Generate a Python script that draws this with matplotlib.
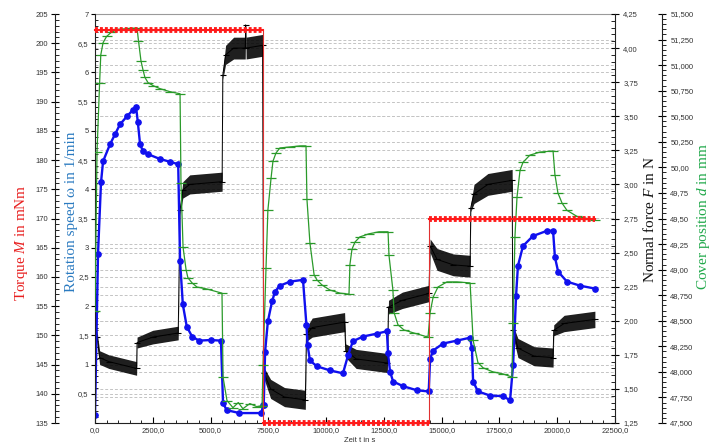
import matplotlib
matplotlib.use("Agg")
import matplotlib.pyplot as plt
from matplotlib.ticker import FixedLocator, FixedFormatter, MultipleLocator

plt.rcParams['mathtext.fontset'] = 'custom'
plt.rcParams['mathtext.rm'] = 'Liberation Serif'
plt.rcParams['mathtext.it'] = 'Liberation Serif:italic'
plt.rcParams['font.family'] = ['Liberation Sans', 'DejaVu Sans']

# ---------------- data ----------------
# Torque M in mNm (red)
torque_t = [0, 7250, 7250, 14450, 14450, 21630]
torque_v = [202.2, 202.2, 135.0, 135.0, 170.0, 170.0]

# Rotation speed in 1/min (blue)
rot_t = [0, 130, 260, 350, 650, 865, 1080, 1385, 1645, 1780,
         1850, 1950, 2080, 2300, 2800, 3250, 3600,
         3680, 3800, 3970, 4200, 4500, 5000, 5450,
         5540, 5700, 6250, 7200, 7270,
         7300, 7360, 7480, 7660, 7790, 8000, 8440, 9000,
         9150, 9200, 9300, 9600, 10170, 10730,
         10950, 11160, 11600, 12200, 12630,
         12680, 12765, 12900, 13330, 13930, 14440,
         14500, 14630, 15060, 15660, 16230,
         16310, 16360, 16570, 17090, 17650, 17960,
         18090, 18220, 18300, 18520, 18950, 19560, 19820,
         19900, 20040, 20420, 20990, 21640]
rot_v = [0.13, 2.89, 4.12, 4.48, 4.77, 4.94, 5.11, 5.25, 5.36, 5.40,
         5.16, 4.77, 4.65, 4.60, 4.52, 4.47, 4.43,
         2.78, 2.03, 1.65, 1.48, 1.41, 1.42, 1.41,
         0.34, 0.22, 0.17, 0.17, 0.30,
         0.30, 1.22, 1.74, 2.08, 2.25, 2.35, 2.42, 2.45,
         1.67, 1.33, 1.07, 0.97, 0.90, 0.85,
         1.16, 1.40, 1.48, 1.53, 1.57,
         1.19, 0.88, 0.71, 0.63, 0.56, 0.54,
         1.10, 1.24, 1.36, 1.41, 1.46,
         1.28, 0.71, 0.54, 0.47, 0.46, 0.39,
         0.99, 2.18, 2.69, 3.03, 3.20, 3.29, 3.29,
         2.84, 2.59, 2.42, 2.35, 2.30]

# Normal force F in N (black): mid line and half width of the noise band
force_t = [0, 90, 200, 600, 1800,
           1820, 2500, 3600,
           3680, 3800, 4100, 5500,
           5530, 5650, 6000, 6500, 6520, 6540, 7250,
           7300, 7600, 8200, 9100,
           9150, 9400, 10800,
           10850, 11300, 12650,
           12700, 13300, 14450,
           14500, 14800, 15500, 16230,
           16260, 16400, 17000, 18050,
           18080, 18300, 19000, 19820,
           19850, 20300, 21630]
force_v = [1.95, 1.88, 1.73, 1.70, 1.65,
           1.84, 1.88, 1.91,
           2.81, 2.96, 3.00, 3.02,
           3.80, 3.95, 4.00, 4.00, 4.17, 4.00, 4.02,
           1.62, 1.50, 1.44, 1.42,
           1.90, 1.95, 1.99,
           1.78, 1.72, 1.69,
           2.10, 2.15, 2.20,
           2.55, 2.45, 2.41, 2.40,
           2.83, 2.93, 3.00, 3.03,
           1.93, 1.80, 1.74, 1.73,
           1.93, 1.98, 2.01]
force_half = [0.02, 0.04, 0.05, 0.05, 0.05,
              0.04, 0.05, 0.05,
              0.03, 0.06, 0.07, 0.07,
              0.03, 0.07, 0.08, 0.08, 0.0, 0.08, 0.08,
              0.04, 0.07, 0.07, 0.07,
              0.05, 0.07, 0.07,
              0.05, 0.07, 0.07,
              0.05, 0.06, 0.06,
              0.05, 0.08, 0.08, 0.08,
              0.03, 0.07, 0.08, 0.08,
              0.04, 0.07, 0.07, 0.07,
              0.04, 0.06, 0.06]

# Cover position d in mm (green)
cover_t = [0, 87, 200, 250, 350, 500, 700, 1000, 1600, 1820,
           1880, 1990, 2080, 2160, 2290, 2510, 2810, 3250, 3680,
           3720, 3810, 3940, 4020, 4200, 4410, 4850, 5495,
           5540, 5710, 5970, 6200, 6400, 6700, 7000, 7230,
           7270, 7400, 7480, 7620, 7700, 7830, 8000, 8440, 8870, 9130,
           9170, 9300, 9480, 9600, 9820, 10170, 10600, 10990,
           11030, 11120, 11250, 11460, 11850, 12290, 12680,
           12720, 12890, 12940, 13110, 13370, 13800, 14410,
           14500, 14630, 14840, 15230, 15660, 16230,
           16360, 16570, 16790, 17220, 17650, 18040,
           18090, 18170, 18260, 18390, 18520, 18820, 19260, 19820,
           19900, 20030, 20210, 20420, 20860, 21290, 21640]
cover_v = [48.60, 50.15, 50.83, 51.10, 51.22, 51.28, 51.32, 51.35, 51.36, 51.36,
           51.24, 51.04, 50.95, 50.88, 50.83, 50.80, 50.77, 50.74, 50.72,
           49.85, 49.22, 49.00, 48.92, 48.87, 48.83, 48.81, 48.77,
           47.95, 47.72, 47.65, 47.70, 47.64, 47.69, 47.66, 47.67,
           48.07, 49.02, 49.58, 49.90, 50.06, 50.14, 50.19, 50.20, 50.21, 50.21,
           49.69, 49.26, 48.95, 48.90, 48.85, 48.80, 48.77, 48.76,
           49.05, 49.20, 49.27, 49.32, 49.35, 49.37, 49.37,
           49.14, 48.80, 48.58, 48.46, 48.41, 48.38, 48.34,
           48.58, 48.73, 48.83, 48.88, 48.88, 48.87,
           48.31, 48.09, 48.04, 48.00, 47.98, 47.95,
           48.48, 49.32, 49.71, 49.97, 50.05, 50.12, 50.15, 50.16,
           49.93, 49.75, 49.65, 49.58, 49.52, 49.50, 49.49]

# axis ticks / labels
x_ticks = [0, 2500, 5000, 7500, 10000, 12500, 15000, 17500, 20000, 22500]
x_labels = ["0,0", "2500,0", "5000,0", "7500,0", "10000,0", "12500,0",
            "15000,0", "17500,0", "20000,0", "22500,0"]
torque_ticks = [135, 140, 145, 150, 155, 160, 165, 170, 175, 180, 185, 190, 195, 200, 205]
torque_labels = [str(v) for v in torque_ticks]
rot_ticks = [0.5, 1, 1.5, 2, 2.5, 3, 3.5, 4, 4.5, 5, 5.5, 6, 6.5, 7]
rot_labels = ["0,5", "1", "1,5", "2", "2,5", "3", "3,5", "4", "4,5", "5", "5,5", "6", "6,5", "7"]
force_ticks = [1.25, 1.5, 1.75, 2.0, 2.25, 2.5, 2.75, 3.0, 3.25, 3.5, 3.75, 4.0, 4.25]
force_labels = ["1,25", "1,50", "1,75", "2,00", "2,25", "2,50", "2,75", "3,00",
                "3,25", "3,50", "3,75", "4,00", "4,25"]
cover_ticks = [47.5, 47.75, 48.0, 48.25, 48.5, 48.75, 49.0, 49.25, 49.5, 49.75,
               50.0, 50.25, 50.5, 50.75, 51.0, 51.25, 51.5]
cover_labels = ["47,500", "47,750", "48,000", "48,250", "48,500", "48,750", "49,00",
                "49,25", "49,50", "49,75", "50,00", "50,250", "50,500", "50,750",
                "51,000", "51,250", "51,500"]

XLIM = (0, 22500)
TORQUE_LIM = (135, 205)
ROT_LIM = (0, 7)
FORCE_LIM = (1.25, 4.25)
COVER_LIM = (47.5, 51.5)

# ---------------- figure ----------------
W, H = 720, 444
fig = plt.figure(figsize=(W / 100, H / 100), dpi=100)
L, R, B, T = 95 / W, 615 / W, 1 - 423 / H, 1 - 14 / H
host = fig.add_axes([L, B, R - L, T - B])
host.set_xlim(*XLIM)
host.set_ylim(0, 1)
host.set_yticks([])
host.spines['left'].set_visible(False)
host.spines['right'].set_visible(False)
host.spines['top'].set_color('#9a9a9a')
host.spines['bottom'].set_color('#222222')
host.xaxis.set_major_locator(FixedLocator(x_ticks))
host.xaxis.set_major_formatter(FixedFormatter(x_labels))
host.xaxis.set_minor_locator(MultipleLocator(500))
host.tick_params(axis='x', which='major', direction='in', length=4, width=0.8,
                 labelsize=5.5, labelcolor='#333333', pad=3)
host.tick_params(axis='x', which='minor', direction='in', length=2, width=0.6)

# dashed horizontal grid for rotation, normal force and cover position ticks
grid_kw = dict(color='#c4c4c4', lw=0.7, ls=(0, (3, 2)), zorder=0)
for v in rot_ticks:
    host.axhline((v - ROT_LIM[0]) / (ROT_LIM[1] - ROT_LIM[0]), **grid_kw)
for v in force_ticks:
    host.axhline((v - FORCE_LIM[0]) / (FORCE_LIM[1] - FORCE_LIM[0]), **grid_kw)
for v in cover_ticks:
    host.axhline((v - COVER_LIM[0]) / (COVER_LIM[1] - COVER_LIM[0]), **grid_kw)


def make_twin(side, offset_pt):
    a = host.twinx()
    for s in a.spines.values():
        s.set_visible(False)
    a.spines[side].set_visible(True)
    a.spines[side].set_position(('outward', offset_pt))
    a.spines[side].set_color('#222222')
    if side == 'left':
        a.yaxis.tick_left()
    else:
        a.yaxis.tick_right()
    return a


ax_f = make_twin('right', 0)
ax_r = make_twin('left', 0)
ax_c = make_twin('right', 33.8)
ax_t = make_twin('left', 28.8)

# normal force
ax_f.set_ylim(*FORCE_LIM)
ax_f.yaxis.set_major_locator(FixedLocator(force_ticks))
ax_f.yaxis.set_major_formatter(FixedFormatter(force_labels))
ax_f.yaxis.set_minor_locator(MultipleLocator(0.05))
ax_f.tick_params(axis='y', which='major', direction='inout', length=6, width=0.8,
                 labelsize=5.5, labelcolor='#333333', pad=3)
ax_f.tick_params(axis='y', which='minor', direction='in', length=3, width=0.6)
ax_f.fill_between(force_t, [m - h for m, h in zip(force_v, force_half)],
                  [m + h for m, h in zip(force_v, force_half)],
                  color='black', alpha=0.88, lw=0)
ax_f.plot(force_t, force_v, color='black', lw=0.7, marker='_', ms=5, mew=0.8)

# rotation speed
ax_r.set_ylim(*ROT_LIM)
ax_r.yaxis.set_major_locator(FixedLocator(rot_ticks))
ax_r.yaxis.set_major_formatter(FixedFormatter(rot_labels))
ax_r.yaxis.set_minor_locator(MultipleLocator(0.1))
ax_r.tick_params(axis='y', which='major', direction='out', length=3, width=0.8,
                 labelsize=5.5, labelcolor='#333333', pad=1.5)
ax_r.tick_params(axis='y', which='minor', direction='in', length=2, width=0.6)
ax_r.plot(rot_t, rot_v, color='#1010ee', lw=1.7, marker='o', ms=3.8,
          mec='#1010ee', mfc='#1010ee')

# cover position
ax_c.set_ylim(*COVER_LIM)
ax_c.yaxis.set_major_locator(FixedLocator(cover_ticks))
ax_c.yaxis.set_major_formatter(FixedFormatter(cover_labels))
ax_c.yaxis.set_minor_locator(MultipleLocator(0.05))
ax_c.tick_params(axis='y', which='major', direction='inout', length=6, width=0.8,
                 labelsize=5.5, labelcolor='#333333', pad=3)
ax_c.tick_params(axis='y', which='minor', direction='out', length=3, width=0.6)
ax_c.plot(cover_t, cover_v, color='#2a9a2a', lw=0.9, marker='_', ms=7, mew=0.9)

# torque
ax_t.set_ylim(*TORQUE_LIM)
ax_t.yaxis.set_major_locator(FixedLocator(torque_ticks))
ax_t.yaxis.set_major_formatter(FixedFormatter(torque_labels))
ax_t.yaxis.set_minor_locator(MultipleLocator(1))
ax_t.tick_params(axis='y', which='major', direction='inout', length=6, width=0.8,
                 labelsize=5.5, labelcolor='#333333', pad=2)
ax_t.tick_params(axis='y', which='minor', direction='in', length=3, width=0.6)
ax_t.plot(torque_t, torque_v, color='#e03030', lw=0.8, clip_on=False)
for i in range(0, len(torque_t), 2):
    ax_t.plot(torque_t[i:i + 2], torque_v[i:i + 2], color='#ff1a1a', lw=4.2,
              ls=(0, (0.5, 0.35)), solid_capstyle='butt', clip_on=False)
    ax_t.plot(torque_t[i:i + 2], torque_v[i:i + 2], color='#ff1a1a', lw=1.5,
              clip_on=False)

# axis titles
serif = ['Liberation Serif', 'DejaVu Serif']
fig.text(22 / W, 1 - 243 / H, r'Torque $\mathit{M}$ in mNm', rotation=90,
         ha='center', va='center', color='#e82020', fontsize=11, family=serif)
fig.text(71 / W, 1 - 212 / H, r'Rotation speed ω in 1/min', rotation=90,
         ha='center', va='center', color='#2a7ac0', fontsize=11, family=serif)
fig.text(650 / W, 1 - 220 / H, r'Normal force $\mathit{F}$ in N', rotation=90,
         ha='center', va='center', color='#111111', fontsize=11, family=serif)
fig.text(703 / W, 1 - 217 / H, r'Cover position $\mathit{d}$ in mm', rotation=90,
         ha='center', va='center', color='#20a84a', fontsize=11, family=serif)
fig.text(360 / W, 1 - 440 / H, 'Zeit t in s', ha='center', va='center',
         fontsize=5.5, color='#333333')

fig.savefig('out.png', dpi=100)
